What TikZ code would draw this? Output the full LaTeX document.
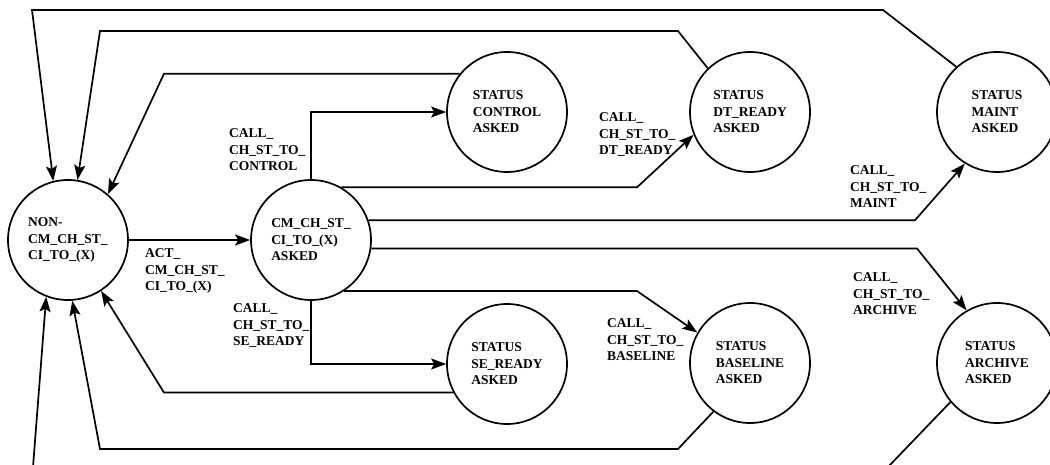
\documentclass[tikz,border=0pt]{standalone}
\usepackage{fontspec}
\setmainfont{Liberation Serif}
\usetikzlibrary{arrows.meta}
\newcommand\lblfont{\fontsize{13.5}{16.5}\selectfont\bfseries}
\begin{document}
\begin{tikzpicture}[x=1pt,y=-1pt,
  state/.style={circle,draw,line width=1.7pt,minimum size=120pt,inner sep=0pt,align=left,font=\lblfont},
  lbl/.style={anchor=north west,inner sep=0pt,align=left,font=\lblfont},
  conn/.style={line width=1.7pt},
  arr/.style={conn,-{Stealth[length=15pt,width=11pt,inset=3pt]}},
]
\useasboundingbox[fill=white] (0,0) rectangle (1050,465);
% states
\node[state] (non) at (68,240) {NON-\\CM\_CH\_ST\_\\CI\_TO\_(X)};
\node[state] (cm) at (311,240) {CM\_CH\_ST\_\\CI\_TO\_(X)\\ASKED};
\node[state] (ctrl) at (507,112) {STATUS\\CONTROL\\ASKED};
\node[state] (dt) at (750,112) {STATUS\\DT\_READY\\ASKED};
\node[state] (maint) at (997,112) {STATUS\\MAINT\\ASKED};
\node[state] (se) at (507,364) {STATUS\\SE\_READY\\ASKED};
\node[state] (base) at (750,363) {STATUS\\BASELINE\\ASKED};
\node[state] (arch) at (997,363) {STATUS\\ARCHIVE\\ASKED};
% bend points
\coordinate (b3) at (637,187);
\coordinate (b4) at (915,220);
\coordinate (b5) at (917,248);
\coordinate (b6) at (637,291);
\coordinate (b8) at (164,393);
\coordinate (b9a) at (678,449);
\coordinate (b9b) at (100,449);
\coordinate (b10) at (888,467);
\coordinate (b11) at (33,467);
\coordinate (t1) at (883,10);
\coordinate (t2) at (32,10);
\coordinate (u1) at (678,31);
\coordinate (u2) at (100,31);
\coordinate (c1) at (164,74);
% connectors
\draw[arr] (non) -- (cm);
\draw[arr] (cm.north) |- (ctrl.west);
\draw[arr] (cm.60) -- (cm.60 -| b3) -- (dt.202);
\draw[arr] (cm.19) -- (cm.19 -| b4) -- (maint.238);
\draw[arr] (cm.352.5) -- (cm.352.5 -| b5) -- (arch.120);
\draw[arr] (cm.303.3) -- (cm.303.3 -| b6) -- (base.150);
\draw[arr] (cm.south) |- (se.west);
\draw[arr] (se.208) -- (se.208 -| b8) -- (non.303);
\draw[arr] (base.233) -- (b9a) -- (b9b) -- (non.274);
\draw[conn] (arch.220) -- (b10);
\draw[arr] (b11) -- (non.249);
\draw[arr] (maint.132) -- (t1) -- (t2) -- (non.104);
\draw[arr] (dt.134) -- (u1) -- (u2) -- (non.81);
\draw[arr] (ctrl.141) -- (ctrl.141 -| c1) -- (non.49);
% labels
\node[lbl] (lact) at (145,248.5) {ACT\_\\CM\_CH\_ST\_\\CI\_TO\_(X)};
\node[lbl] (lctrl) at (229,128.5) {CALL\_\\CH\_ST\_TO\_\\CONTROL};
\node[lbl] (ldt) at (599,112.5) {CALL\_\\CH\_ST\_TO\_\\DT\_READY};
\node[lbl] (lmaint) at (850,165.5) {CALL\_\\CH\_ST\_TO\_\\MAINT};
\node[lbl] (larch) at (853,272.5) {CALL\_\\CH\_ST\_TO\_\\ARCHIVE};
\node[lbl] (lbase) at (607,318.5) {CALL\_\\CH\_ST\_TO\_\\BASELINE};
\node[lbl] (lse) at (233,303.5) {CALL\_\\CH\_ST\_TO\_\\SE\_READY};
\end{tikzpicture}
\end{document}
